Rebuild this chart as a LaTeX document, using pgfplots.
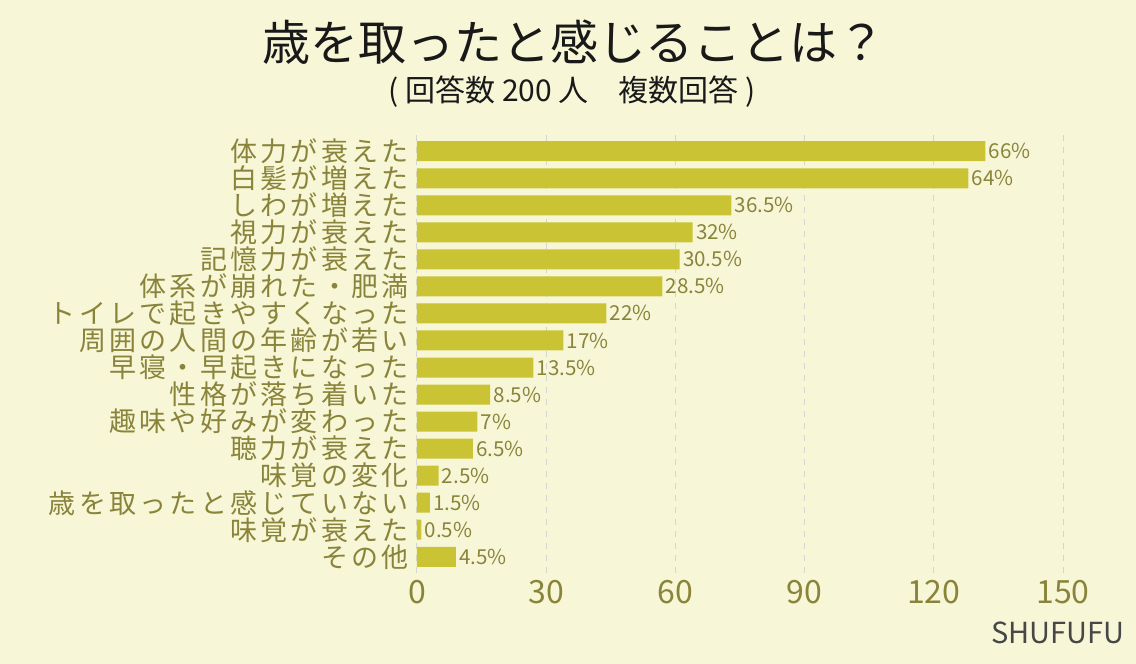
\documentclass[border=0pt]{standalone}
\usepackage{fontspec}
\setmainfont{Noto Sans CJK JP}
\newfontfamily\catfont[LetterSpace=12]{Noto Sans CJK JP}
\usepackage{pgfplots}
\pgfplotsset{compat=1.18}
\definecolor{bg}{HTML}{F7F7D8}
\definecolor{barc}{HTML}{CAC434}
\definecolor{olive}{HTML}{8A843A}
\definecolor{gridc}{HTML}{D6D6D0}

% value (people), row index, percent label
\pgfplotstableread{
y   x    lab
15  132  66\%
14  128  64\%
13  73   36.5\%
12  64   32\%
11  61   30.5\%
10  57   28.5\%
9   44   22\%
8   34   17\%
7   27   13.5\%
6   17   8.5\%
5   14   7\%
4   13   6.5\%
3   5    2.5\%
2   3    1.5\%
1   1    0.5\%
0   9    4.5\%
}\answers

\begin{document}
\begin{tikzpicture}
\fill[bg] (0,0) rectangle (568pt,332pt);
\node[font=\fontsize{24pt}{26pt}\selectfont, text=black!90] at (287pt,311pt) {歳を取ったと感じることは？};
\node[font=\fontsize{15pt}{17pt}\selectfont, text=black!90] at (286pt,286pt) {( 回答数 200 人　複数回答 )};
\begin{axis}[
    at={(208.5pt,45.5pt)}, anchor=south west,
    scale only axis,
    width=323pt, height=219pt,
    xbar,
    bar width=10pt,
    xmin=0, xmax=150,
    ymin=-0.6, ymax=15.6,
    xtick={0,30,...,150},
    ytick={0,...,15},
    yticklabels={その他,味覚が衰えた,歳を取ったと感じていない,味覚の変化,聴力が衰えた,趣味や好みが変わった,性格が落ち着いた,早寝・早起きになった,周囲の人間の年齢が若い,トイレで起きやすくなった,体系が崩れた・肥満,記憶力が衰えた,視力が衰えた,しわが増えた,白髪が増えた,体力が衰えた},
    axis line style={draw=none},
    major tick length=0pt,
    xmajorgrids,
    grid style={gridc, dashed, line width=0.5pt},
    /pgf/number format/assume math mode=true,
    xticklabel style={font=\fontsize{16pt}{18pt}\selectfont, text=olive, inner sep=0pt, yshift=-3.5pt},
    yticklabel style={font=\catfont\fontsize{13.5pt}{15pt}\selectfont, text=olive, inner sep=0pt, xshift=-4pt},
    point meta=explicit symbolic,
    nodes near coords,
    nodes near coords style={font=\fontsize{10.3pt}{12pt}\selectfont, text=olive, anchor=west, inner sep=1.5pt},
]
\addplot[fill=barc, draw=none] table[x=x, y=y, meta=lab] {\answers};
\end{axis}
\node[anchor=east, inner sep=0pt, font=\fontsize{14.5pt}{17pt}\selectfont, text=black!72] at (562.5pt,15.5pt) {SHUFUFU};
\end{tikzpicture}
\end{document}
